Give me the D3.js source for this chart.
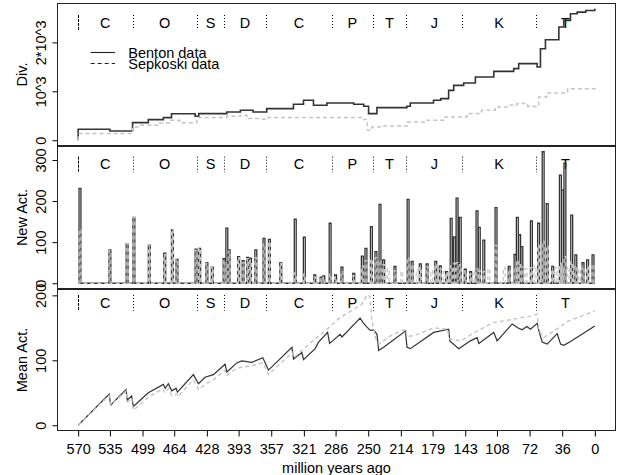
<!DOCTYPE html>
<html>
<head>
<meta charset="utf-8">
<script src="https://cdn.jsdelivr.net/npm/d3@7"></script>
<style>
  body { margin: 0; background: #fff; }
  svg { font-family: "Liberation Sans", Arial, sans-serif; }
</style>
</head>
<body>
<script>
// Geological periods (start in Ma) and their labels
var periodStart = [570, 510, 439, 409, 363, 290, 245, 208, 146, 65];
var periodNames = ["C", "O", "S", "D", "C", "P", "T", "J", "K", "T"];
var xTickLabels = [570, 535, 499, 464, 428, 393, 357, 321, 286, 250, 214, 179, 143, 108, 72, 36, 0];

// Panel 1: diversity (step series)
var divBentonMa = [570, 570, 535, 510, 492.6, 476, 467, 441, 437, 406, 391, 377, 362, 332.5, 321.4, 310.4, 295.6, 266, 255, 249.6, 240.4, 207.3, 203.6, 178, 170, 161.3, 155.7, 144.7, 131.8, 111.5, 89.5, 84, 63.7, 60, 54.5, 39.7, 34.2, 26.9, 19.5, 10, 0];
var divBenton = [0, 224, 190, 360, 422, 463, 540, 490, 544, 578, 612, 578, 646, 735, 816, 714, 762, 735, 694, 544, 667, 694, 762, 816, 850, 1020, 1122, 1170, 1293, 1408, 1463, 1565, 1497, 1871, 2054, 2313, 2449, 2585, 2619, 2650, 2687];
var divSepkoskiMa = [570, 570, 510, 502, 480, 469, 458, 439, 406, 391, 384, 369, 362, 255, 251, 246, 237, 207, 185, 165, 141, 125, 110, 95, 86, 74, 62, 53, 30, 0];
var divSepkoski = [0, 136, 272, 306, 354, 408, 360, 463, 490, 510, 442, 430, 463, 422, 204, 272, 293, 374, 408, 476, 544, 612, 680, 714, 750, 690, 884, 966, 1054, 1075];

// Panel 2: new activity (spikes)
var newActMa = [568, 535, 516, 508.5, 491.5, 474.5, 466, 461, 440, 436, 428, 422, 409, 406, 403.5, 393, 388, 383, 380, 374, 365, 359, 346.5, 330.5, 320.5, 309, 302, 299, 292, 286, 279, 266, 256.5, 252.5, 246.5, 241.5, 237, 233, 228, 220.5, 213, 206, 201.5, 196, 192.5, 185, 180, 175.5, 170.5, 166, 163.5, 158.5, 155, 152, 148.5, 143, 137, 133.5, 130, 127.5, 122.5, 117, 109, 100, 94.5, 88, 85.5, 83, 80.5, 76, 70, 66, 62, 57, 52.5, 46.5, 43, 38, 35.5, 33, 29.5, 25.5, 21, 17, 13, 8, 2];
var newActBenton = [231, 81, 96, 160, 93, 73, 130, 58, 83, 85, 50, 40, 60, 134, 81, 65, 55, 63, 61, 81, 109, 107, 50, 156, 112, 20, 15, 18, 146, 20, 39, 24, 66, 85, 138, 77, 192, 57, 0, 41, 0, 204, 53, 0, 47, 47, 0, 53, 42, 0, 28, 158, 113, 207, 160, 34, 28, 0, 176, 136, 105, 0, 184, 0, 41, 70, 160, 118, 89, 0, 152, 0, 146, 320, 194, 41, 0, 263, 227, 292, 0, 166, 69, 0, 50, 57, 69];
var newActSepkoski = [130, 80, 96, 160, 93, 70, 130, 58, 80, 85, 48, 40, 55, 45, 78, 62, 50, 60, 55, 62, 95, 100, 48, 25, 22, 15, 12, 14, 22, 15, 28, 18, 42, 55, 58, 62, 55, 45, 35, 30, 28, 62, 45, 32, 38, 40, 30, 45, 35, 28, 25, 42, 48, 50, 45, 30, 22, 30, 35, 30, 28, 35, 92, 38, 32, 40, 55, 45, 40, 35, 38, 42, 92, 102, 90, 32, 38, 48, 40, 65, 40, 52, 42, 35, 40, 40, 45];

// Panel 3: mean activity (sawtooth)
var meanBentonMa = [570, 535.7, 534.2, 517.2, 515.8, 511, 509.1, 492.6, 476, 474, 470.5, 466.8, 462, 460.5, 442.9, 437.3, 430, 420.8, 407.9, 406, 395, 389.5, 378.4, 366.3, 360, 334.2, 332.4, 323.2, 321.4, 308.5, 304.8, 294.8, 292.6, 281, 279, 259, 255, 251.4, 247.7, 244, 240.3, 238.5, 233, 209, 207.2, 203.5, 177.8, 161.2, 160, 150.1, 137.3, 129.9, 128, 111.5, 107.8, 91.2, 85, 80.2, 75, 71, 63.6, 61.8, 58.1, 52.6, 41.5, 37.8, 34.2, 26.8, 0];
var meanBenton = [0, 48, 31, 55, 39, 45, 29, 50, 63, 57, 64, 53, 57, 51, 78, 64, 74, 78, 94, 82, 96, 99, 97, 104, 85, 120, 102, 112, 101, 118, 128, 143, 126, 140, 136, 165, 157, 151, 146, 147, 140, 115, 120, 145, 120, 118, 143, 148, 130, 118, 130, 135, 126, 143, 130, 156, 150, 147, 152, 148, 157, 146, 128, 125, 141, 125, 123, 129, 153];
var meanSepkoskiMa = [570, 536, 534, 517, 515.5, 511, 509, 492, 477, 474, 470, 467, 461, 460, 443, 437, 430, 421, 408, 406, 395, 378, 366, 360, 334, 332, 321, 307, 292, 281, 270, 258, 251, 248, 246, 242, 238, 225, 209, 207, 196, 178, 163, 160, 148, 130, 112, 95, 80, 71, 63.6, 61.8, 56.3, 40, 30, 15, 0];
var meanSepkoski = [0, 46, 31, 53, 36, 42, 23, 44, 56, 50, 57, 46, 48, 44, 70, 55, 63, 70, 85, 77, 88, 92, 96, 78, 112, 104, 118, 135, 152, 166, 175, 185, 201, 198, 161, 135, 125, 138, 148, 136, 140, 150, 148, 133, 130, 145, 158, 162, 166, 168, 171, 146, 135, 150, 160, 168, 176];

window.onload = function(){

  var w = 619, h = 475;
  var left = 57.5, right = 615.5;
  var dark = "#333333", light = "#c4c4c4";

  var svg = d3.select("body").append("svg")
    .attr("width", w)
    .attr("height", h);

  // R style axis extension of 4%
  function padDomain(lo, hi){
    var p = (hi - lo) * 0.04;
    return [lo - p, hi + p];
  }

  var x = d3.scaleLinear().domain(padDomain(0, 570).reverse()).range([left, right]);

  var panels = [
    {top: 3.5, bottom: 145.5, label: "Div.", labelY: 24.2, dots: [11.5, 26.5],
     y: d3.scaleLinear().domain(padDomain(0, d3.max(divBenton))).range([145.5, 3.5]),
     ticks: [0, 1000, 2000], tickText: ["0", "10^3", "2*10^3"]},
    {top: 146.5, bottom: 288.5, label: "New Act.", labelY: 22.5, dots: [10.2, 25.8],
     y: d3.scaleLinear().domain(padDomain(0, d3.max(newActBenton))).range([288.5, 146.5]),
     ticks: [0, 100, 200, 300], tickText: ["0", "100", "200", "300"]},
    {top: 289.5, bottom: 430.5, label: "Mean Act.", labelY: 18.2, dots: [5.5, 21.2],
     y: d3.scaleLinear().domain(padDomain(0, d3.max(meanSepkoski))).range([430.5, 289.5]),
     ticks: [0, 100, 200], tickText: ["0", "100", "200"]}
  ];

  function zip(a, b){ return a.map(function(d, i){ return [d, b[i]]; }); }

  // spikes: narrow boxes around each time with a value
  function spikes(ma, vals){
    var hw = 1.05, pts = [[570, 0]];
    ma.forEach(function(t, i){
      var v = vals[i];
      if (!v) return;
      var a = t + hw, b = t - hw, last = pts[pts.length - 1];
      if (pts.length > 1 && last[1] === 0 && a >= last[0] - 0.2) {
        pts.pop();
        pts.push([pts[pts.length - 1][0], v]);
      } else {
        pts.push([a, 0], [a, v]);
      }
      pts.push([b, v], [b, 0]);
    });
    pts.push([0, 0]);
    return pts;
  }

  panels.forEach(function(p, k){
    var g = svg.append("g").attr("class", "panel" + k);

    // period boundaries and names
    g.selectAll(".bound")
      .data(periodStart)
      .enter().append("line")
      .attr("x1", function(d){ return Math.round(x(d)) + 0.5; })
      .attr("x2", function(d){ return Math.round(x(d)) + 0.5; })
      .attr("y1", p.top + p.dots[0])
      .attr("y2", p.top + p.dots[1])
      .attr("stroke", "#000")
      .attr("stroke-width", 1)
      .attr("stroke-dasharray", function(d, i){ return i === 0 ? "3,1" : "1,2"; });

    g.selectAll(".pname")
      .data(periodNames)
      .enter().append("text")
      .attr("x", function(d, i){
        var end = i + 1 < periodStart.length ? periodStart[i + 1] : 0;
        return x((periodStart[i] + end) / 2);
      })
      .attr("y", p.top + p.labelY)
      .attr("text-anchor", "middle")
      .style("font-size", "14.5px")
      .text(function(d){ return d; });

    // y axis
    var ax = g.append("g")
      .attr("transform", "translate(" + left + ",0)")
      .call(d3.axisLeft(p.y).tickValues(p.ticks).tickSize(5)
        .tickFormat(function(d, i){ return p.tickText[i]; }));
    ax.select(".domain").remove();
    ax.selectAll("line").attr("stroke", "#000");
    ax.selectAll("text")
      .attr("x", 0).attr("dy", 0)
      .attr("transform", "translate(-11.5,0) rotate(-90)")
      .attr("text-anchor", "middle")
      .attr("fill", "#000")
      .style("font-size", "14.5px")
      .style("font-family", "Liberation Sans, Arial, sans-serif");

    g.append("text")
      .attr("transform", "translate(26.5," + (p.top + p.bottom) / 2 + ") rotate(-90)")
      .attr("text-anchor", "middle")
      .style("font-size", "14.5px")
      .text(p.label);
  });

  // Panel 1 lines
  var p1 = panels[0];
  var step1 = d3.line()
    .x(function(d){ return x(d[0]); })
    .y(function(d){ return p1.y(d[1]); })
    .curve(d3.curveStepAfter);
  svg.append("path")
    .datum(zip(divBentonMa, divBenton))
    .attr("d", step1)
    .attr("fill", "none")
    .attr("stroke", dark)
    .attr("stroke-width", 1.6);
  svg.append("path")
    .datum(zip(divSepkoskiMa, divSepkoski))
    .attr("d", step1)
    .attr("fill", "none")
    .attr("stroke", light)
    .attr("stroke-width", 1.5)
    .attr("stroke-dasharray", "4,3");

  // legend
  var legend = svg.append("g").attr("class", "legend");
  [["Benton data", null, 52.5], ["Sepkoski data", "4,3", 63.5]].forEach(function(d){
    legend.append("line")
      .attr("x1", 90.7).attr("x2", 115)
      .attr("y1", d[2]).attr("y2", d[2])
      .attr("stroke", "#222")
      .attr("stroke-width", 1.1)
      .attr("stroke-dasharray", d[1]);
    legend.append("text")
      .attr("x", 128.3).attr("y", d[2] + 5.2)
      .style("font-size", "14.5px")
      .text(d[0]);
  });

  // Panel 2 spikes
  var p2 = panels[1];
  var line2 = d3.line()
    .x(function(d){ return x(d[0]); })
    .y(function(d){ return p2.y(d[1]); });
  svg.append("path")
    .datum(spikes(newActMa, newActBenton))
    .attr("d", line2)
    .attr("fill", "none")
    .attr("stroke", dark)
    .attr("stroke-width", 1.3);
  svg.append("path")
    .datum(spikes(newActMa, newActSepkoski))
    .attr("d", line2)
    .attr("fill", "none")
    .attr("stroke", light)
    .attr("stroke-width", 1.3)
    .attr("stroke-dasharray", "4,3");

  // Panel 3 sawtooth
  var p3 = panels[2];
  var line3 = d3.line()
    .x(function(d){ return x(d[0]); })
    .y(function(d){ return p3.y(d[1]); });
  svg.append("path")
    .datum(zip(meanBentonMa, meanBenton))
    .attr("d", line3)
    .attr("fill", "none")
    .attr("stroke", dark)
    .attr("stroke-width", 1.2);
  svg.append("path")
    .datum(zip(meanSepkoskiMa, meanSepkoski))
    .attr("d", line3)
    .attr("fill", "none")
    .attr("stroke", light)
    .attr("stroke-width", 1.4)
    .attr("stroke-dasharray", "4,3");

  // panel frames
  svg.selectAll(".frame")
    .data(panels)
    .enter().append("rect")
    .attr("x", left)
    .attr("y", function(d){ return d.top; })
    .attr("width", right - left)
    .attr("height", function(d){ return d.bottom - d.top; })
    .attr("fill", "none")
    .attr("stroke", "#222")
    .attr("stroke-width", 1);

  // x axis
  var xa = svg.append("g")
    .attr("transform", "translate(0,430.5)")
    .call(d3.axisBottom(x).tickValues(xTickLabels).tickSize(6).tickPadding(7)
      .tickFormat(function(d){ return d; }));
  xa.select(".domain").remove();
  xa.selectAll("line").attr("stroke", "#000");
  xa.selectAll("text")
    .attr("fill", "#000")
    .style("font-size", "14.5px")
    .style("font-family", "Liberation Sans, Arial, sans-serif");

  svg.append("text")
    .attr("x", (left + right) / 2)
    .attr("y", 473)
    .attr("text-anchor", "middle")
    .style("font-size", "14.5px")
    .text("million years ago");
};
</script>
</body>
</html>
